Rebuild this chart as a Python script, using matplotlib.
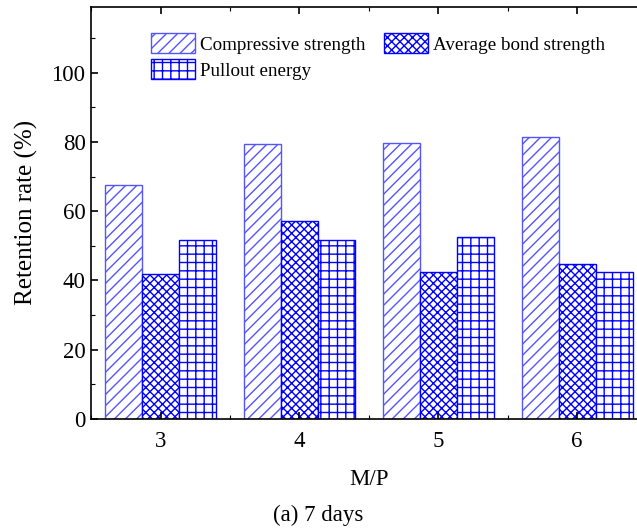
import numpy as np
from matplotlib import pyplot as plt
from matplotlib.ticker import MultipleLocator

plt.rcParams['font.family'] = ['Liberation Serif', 'DejaVu Serif']
plt.rcParams['hatch.linewidth'] = 1.0

mp_ratio = [3, 4, 5, 6]
series_names = ['Compressive strength', 'Average bond strength', 'Pullout energy']
compressive = [67.5, 79.5, 79.7, 81.5]
bond = [42.0, 57.3, 42.3, 44.8]
pullout = [51.7, 51.8, 52.5, 42.3]
hatches = ['///', 'xxxx', '++']

fig = plt.figure(figsize=(6.37, 5.31), dpi=100)
ax = fig.add_axes([0.143, 0.211, 0.872, 0.776])

x = np.array(mp_ratio, dtype=float)
w = 0.8 / 3
bars = []
for i, (vals, name, h) in enumerate(zip([compressive, bond, pullout], series_names, hatches)):
    ec = '#5555ff' if i == 0 else 'blue'
    bars.append(ax.bar(x + (i - 1) * w, vals, w, facecolor='white', edgecolor=ec,
                       hatch=h, linewidth=1.0, label=name))

ax.set_xlim(2.5, 6.5)
ax.set_ylim(0, 119)
ax.set_xticks(mp_ratio)
ax.xaxis.set_minor_locator(MultipleLocator(0.5))
ax.yaxis.set_major_locator(MultipleLocator(20))
ax.yaxis.set_minor_locator(MultipleLocator(10))
ax.tick_params(which='both', direction='in', top=True, right=True, labelsize=16.5)
ax.tick_params(which='major', length=5, width=1.2)
ax.tick_params(which='minor', length=3, width=0.8)
ax.tick_params(axis='x', pad=9)
ax.tick_params(axis='y', pad=4)
for s in ax.spines.values():
    s.set_linewidth(1.2)

ax.set_ylabel('Retention rate (%)', fontsize=18, labelpad=10)
ax.set_xlabel('M/P', fontsize=16.5, labelpad=12)
fig.text(0.5, 0.018, '(a) 7 days', ha='center', fontsize=16.5)

# legend order so that row 1 holds compressive + bond, row 2 holds pullout
order = [0, 2, 1]
ax.legend([bars[k] for k in order], [series_names[k] for k in order],
          loc='upper left', bbox_to_anchor=(0.095, 0.955), ncol=2, frameon=False,
          fontsize=13.7, handlelength=2.3, handleheight=1.25, handletextpad=0.25,
          columnspacing=1.0, labelspacing=0.3, borderaxespad=0)

fig.savefig('out.png', dpi=100)
